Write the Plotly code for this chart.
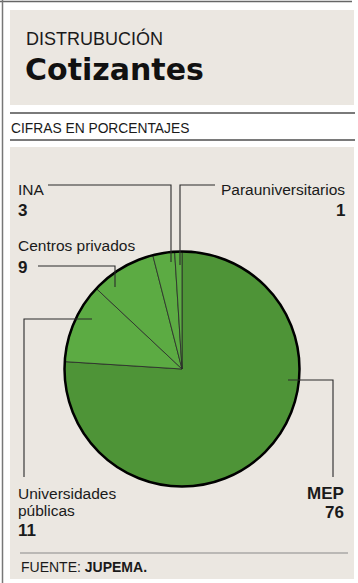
import plotly.graph_objects as go

# ---- data ----
categories = ["MEP", "Universidades públicas", "Centros privados", "INA", "Parauniversitarios"]
values = [76, 11, 9, 3, 1]
slice_colors = ["#4E9437", "#5CAB43", "#5CAB43", "#5CAB43", "#5CAB43"]

W, H = 358, 583


def px(x):
    return x / W


def py(y):
    return 1 - y / H


cx, cy, r = 182, 369, 117.5

fig = go.Figure(
    go.Pie(
        labels=categories,
        values=values,
        sort=False,
        direction="clockwise",
        rotation=0,
        marker=dict(colors=slice_colors, line=dict(color="#2a2a2a", width=0.8)),
        textinfo="none",
        hoverinfo="label+value",
        domain=dict(x=[px(cx - r), px(cx + r)], y=[py(cy + r), py(cy - r)]),
        showlegend=False,
    )
)

BEIGE = "#EBE7E1"
shapes = []


def rect(x0, y0, x1, y1, fill):
    shapes.append(dict(type="rect", xref="paper", yref="paper", x0=px(x0), x1=px(x1),
                       y0=py(y1), y1=py(y0), fillcolor=fill, line=dict(width=0), layer="below"))


def line(x0, y0, x1, y1, color="#777", width=1.5, layer="below"):
    shapes.append(dict(type="line", xref="paper", yref="paper", x0=px(x0), x1=px(x1),
                       y0=py(y0), y1=py(y1), line=dict(color=color, width=width), layer=layer))


def path(points, color="#2a2a2a", width=1.1):
    d = "M " + " L ".join(f"{px(x):.5f},{py(y):.5f}" for x, y in points)
    shapes.append(dict(type="path", xref="paper", yref="paper", path=d,
                       line=dict(color=color, width=width), layer="above"))


# frame / boxes
line(0, 1.5, 352, 1.5, "#666", 1.5)
line(2.5, 0, 2.5, 583, "#777", 1.5)
rect(10, 10, 354, 105, BEIGE)
line(10, 113, 355, 113, "#7a7a7a", 2)
line(10, 140, 355, 140, "#7a7a7a", 2)
rect(10, 147, 354, 579, BEIGE)
line(20, 553, 348, 553, "#8a8a8a", 1.2)

# pie outline
shapes.append(dict(type="circle", xref="paper", yref="paper",
                   x0=px(cx - r), x1=px(cx + r), y0=py(cy + r), y1=py(cy - r),
                   line=dict(color="#000", width=2.5), layer="above"))

# leader lines
path([(48, 185), (171, 185), (171, 262)])
path([(215, 185), (180, 185), (180, 265)])
path([(38, 266), (115, 266), (115, 287)])
path([(92, 319), (24, 319), (24, 477)])
path([(288, 380), (333, 380), (333, 477)])

annotations = []


def text(t, x, y, size=15, anchor="left", family="Liberation Sans, Arial, sans-serif", color="#1a1a1a"):
    annotations.append(dict(text=t, x=px(x), y=py(y), xref="paper", yref="paper",
                            xanchor=anchor, yanchor="middle", showarrow=False,
                            font=dict(size=size, family=family, color=color)))


text("DISTRUBUCIÓN", 24, 39, 18)
text("<b>Cotizantes</b>", 23, 70, 30, family="DejaVu Sans, sans-serif", color="#111")
text("CIFRAS EN PORCENTAJES", 9, 128, 13.8)

text("INA", 16, 189, 15.5)
text("<b>3</b>", 16, 210, 17)
text("Parauniversitarios", 347, 189, 15.5, anchor="right")
text("<b>1</b>", 347, 210, 17, anchor="right")
text("Centros privados", 16, 245, 15.5)
text("<b>9</b>", 16, 267, 17)
text("Universidades", 16, 493, 15.5)
text("públicas", 16, 510, 15.5)
text("<b>11</b>", 16, 530, 17)
text("<b>MEP</b>", 346, 493, 17, anchor="right")
text("<b>76</b>", 346, 512, 17, anchor="right")
text("FUENTE: <b>JUPEMA.</b>", 19, 567, 14)

fig.update_layout(
    width=W, height=H,
    margin=dict(l=0, r=0, t=0, b=0),
    paper_bgcolor="white",
    plot_bgcolor="white",
    shapes=shapes,
    annotations=annotations,
    font=dict(family="Liberation Sans, Arial, sans-serif"),
)

fig.write_html("out.html", config={"displayModeBar": False},
               post_script="document.body.style.margin='0';document.body.style.overflow='hidden';")
